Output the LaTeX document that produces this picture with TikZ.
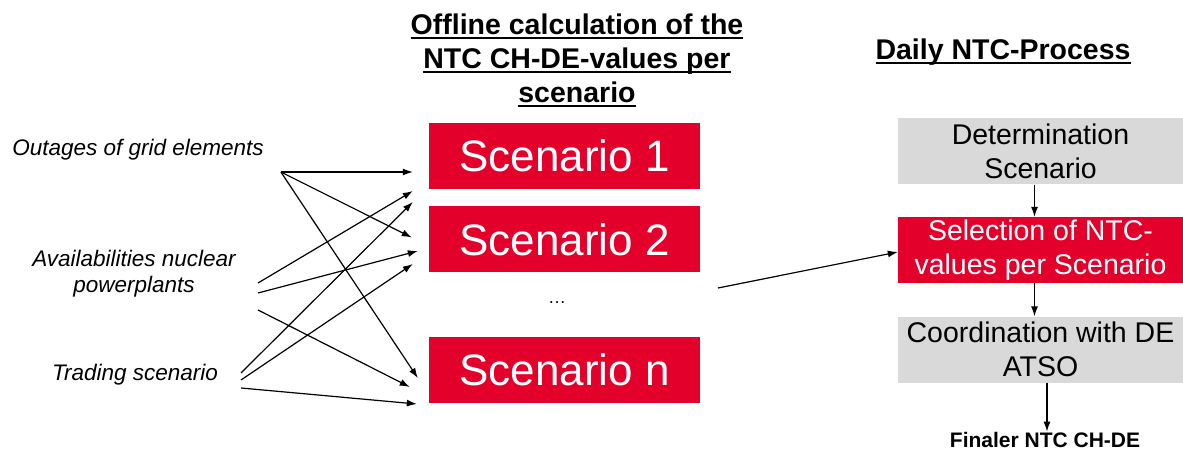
\documentclass[tikz,border=0pt]{standalone}
\usepackage{fontspec}
\setmainfont{Liberation Sans}
\usetikzlibrary{positioning,arrows.meta,calc}
\definecolor{myred}{RGB}{227,0,43}
\definecolor{mygray}{RGB}{217,217,217}
\newcommand{\ultext}[1]{\setbox0\hbox{#1}\rlap{\rule[-4pt]{\wd0}{2pt}}\box0}
\tikzset{
    head/.style={
        inner sep=0pt,
        align=center,
        font=\bfseries\fontsize{28.5}{34}\selectfont
    },
    lbl/.style={
        inner sep=0pt,
        align=center,
        font=\itshape\fontsize{22.5}{26}\selectfont
    },
    scen/.style={
        rectangle,
        fill=myred,
        text=white,
        minimum width=271pt,
        minimum height=66pt,
        inner sep=0pt,
        font=\fontsize{44}{50}\selectfont
    },
    proc/.style={
        rectangle,
        fill=mygray,
        minimum width=285pt,
        minimum height=66pt,
        inner sep=0pt,
        align=center,
        font=\fontsize{28.5}{34}\selectfont
    },
    arr/.style={-{Latex[length=10pt,width=7pt]},line width=1.2pt}
}
\begin{document}
\begin{tikzpicture}[x=1pt,y=-1pt]
\useasboundingbox (0,0) rectangle (1183,454);

% headings (base = last line)
\node[head,anchor=base] (offl) at (577,103) {\ultext{Offline calculation of the}\\\ultext{NTC CH-DE-values per}\\\ultext{scenario}};
\node[head,anchor=base] (daily) at (1003,60) {\ultext{Daily NTC-Process}};

% inputs
\node[lbl,anchor=base] (outg) at (138,156) {Outages of grid elements};
\node[lbl,anchor=base] (avail) at (134,293) {Availabilities nuclear\\powerplants};
\node[lbl,anchor=base] (trad) at (135,380) {Trading scenario};

% scenarios
\node[scen] (s1) at (564.5,156) {Scenario 1};
\node[scen] (s2) at (564.5,239.5) {Scenario 2};
\node[font=\fontsize{18}{20}\selectfont] (dots) at (557,303) {\ldots};
\node[scen] (sn) at (564.5,370) {Scenario n};

% daily process
\node[proc] (det) at (1040.5,151.5) {Determination\\Scenario};
\node[proc,fill=myred,text=white] (sel) at (1040.5,250) {Selection of NTC-\\values per Scenario};
\node[proc] (coord) at (1040.5,349.5) {Coordination with DE\\ATSO};
\node[inner sep=0pt,font=\bfseries\fontsize{21}{24}\selectfont,anchor=base] (final) at (1045,447) {Finaler NTC CH-DE};

\coordinate (o1) at ($(outg.base east)+(17,16)$);
\coordinate (a1) at (258,283);
\coordinate (a2) at (258,293);
\coordinate (a3) at (258,310);
\coordinate (t1) at (241,373);
\coordinate (t2) at (241,380);
\coordinate (t3) at (241,388);
\coordinate (mid) at (718,288);

\draw[arr] (o1) -- ($(s1.west)+(-16,16)$);
\draw[arr] (o1) -- ($(s2.west)+(-17,-2)$);
\draw[arr] (o1) -- ($(sn.west)+(-11,8)$);
\draw[arr] (a1) -- ($(s1.west)+(-16,35)$);
\draw[arr] (a2) -- ($(s2.west)+(-11,11.5)$);
\draw[arr] (a3) -- ($(sn.west)+(-19,17)$);
\draw[arr] (t1) -- ($(s1.west)+(-16,46)$);
\draw[arr] (t2) -- ($(s2.west)+(-16,24.5)$);
\draw[arr] (t3) -- ($(sn.west)+(-12,34)$);

\draw[arr] (mid) -- ($(sel.west)+(0,2)$);
\draw[arr] ([xshift=-6pt]det.south) -- ([xshift=-6pt]sel.north);
\draw[arr] ([xshift=-6pt]sel.south) -- ([xshift=-6pt]coord.north);
\draw[arr] ([xshift=6.5pt]coord.south) -- ([xshift=2pt]final.north);
\end{tikzpicture}
\end{document}
